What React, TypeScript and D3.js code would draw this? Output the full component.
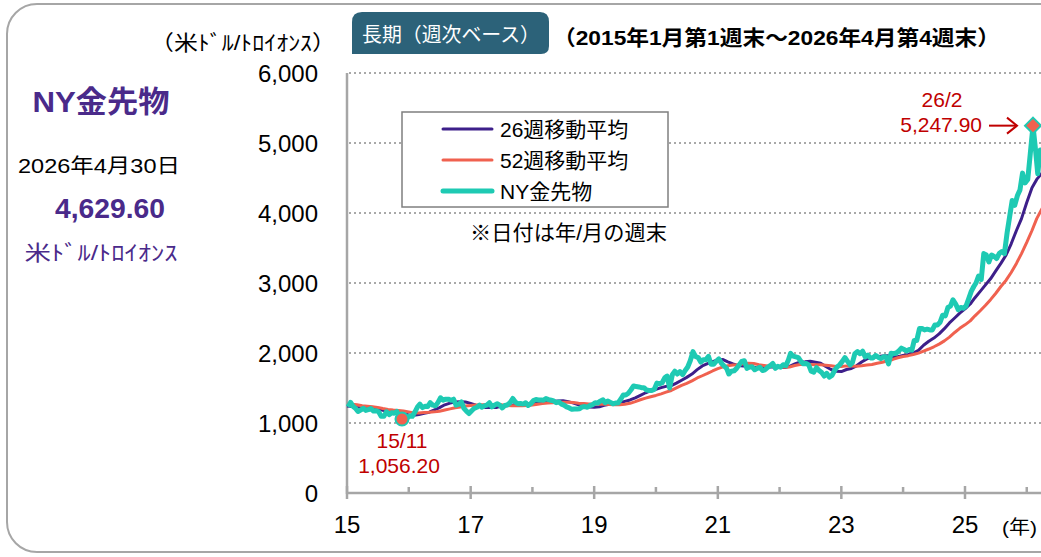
import React from 'react';
import * as d3 from 'd3';

const W = 1041;
const H = 557;
const FONT = "'Liberation Sans', Arial, 'Noto Sans CJK JP', sans-serif";

// ---- data (semi-monthly: ~7th and ~22nd of each month) ----
const gold2015 = [1230, 1295, 1235, 1205, 1165, 1185, 1210, 1180, 1190, 1205, 1170, 1175, 1160, 1095, 1095, 1160, 1120, 1145, 1140, 1165, 1090, 1056.2, 1075, 1070];
const gold2016 = [1100, 1095, 1160, 1230, 1270, 1220, 1240, 1235, 1290, 1255, 1245, 1295, 1360, 1325, 1340, 1340, 1325, 1340, 1255, 1265, 1300, 1210, 1170, 1135];
const gold2017 = [1175, 1210, 1225, 1255, 1225, 1245, 1255, 1290, 1230, 1255, 1275, 1255, 1215, 1250, 1260, 1290, 1350, 1300, 1275, 1280, 1270, 1290, 1250, 1275];
const gold2018 = [1320, 1335, 1330, 1330, 1325, 1350, 1335, 1325, 1315, 1290, 1300, 1270, 1255, 1230, 1215, 1195, 1200, 1200, 1205, 1230, 1235, 1225, 1250, 1260];
const gold2019 = [1290, 1285, 1315, 1330, 1290, 1315, 1295, 1275, 1285, 1285, 1340, 1400, 1400, 1425, 1475, 1530, 1520, 1515, 1505, 1505, 1470, 1465, 1465, 1480];
const gold2020 = [1570, 1560, 1575, 1645, 1670, 1500, 1690, 1740, 1700, 1735, 1690, 1750, 1800, 1890, 2020, 1950, 1935, 1870, 1905, 1905, 1950, 1840, 1840, 1880];
const gold2021 = [1915, 1855, 1815, 1780, 1700, 1740, 1745, 1780, 1830, 1880, 1890, 1780, 1800, 1805, 1760, 1780, 1795, 1750, 1760, 1795, 1820, 1850, 1780, 1810];
const gold2022 = [1797, 1832, 1820, 1900, 1995, 1955, 1945, 1935, 1880, 1845, 1850, 1830, 1740, 1725, 1790, 1750, 1720, 1670, 1710, 1655, 1680, 1750, 1800, 1830];
const gold2023 = [1880, 1935, 1880, 1830, 1860, 1990, 2020, 1990, 2025, 1945, 1970, 1930, 1930, 1965, 1940, 1920, 1945, 1945, 1845, 1995, 1990, 2000, 2030, 2070];
const gold2024 = [2050, 2030, 2050, 2040, 2180, 2180, 2350, 2350, 2330, 2340, 2330, 2330, 2400, 2400, 2440, 2540, 2530, 2650, 2670, 2760, 2700, 2620, 2650, 2640];
const gold2025 = [2670, 2770, 2880, 2950, 3000, 3100, 3050, 3420, 3400, 3300, 3400, 3380, 3350, 3420, 3450, 3420, 3720, 3950, 4180, 4110, 4250, 4330, 4570, 4430];
const gold2026 = [4480, 4850, 5247.9, 4900, 4560, 4900, 4750, 4629.6];
const goldYears = [gold2015, gold2016, gold2017, gold2018, gold2019, gold2020, gold2021, gold2022, gold2023, gold2024, gold2025, gold2026];

// monthly moving averages (first value = start of Jan 2015, then each month end)
const ma26 = [1242,
  1234, 1221, 1210, 1205, 1208, 1204, 1181, 1166, 1159, 1152, 1131, 1114,
  1109, 1120, 1139, 1154, 1187, 1220, 1260, 1285, 1299, 1303, 1300, 1280,
  1255, 1239, 1222, 1224, 1222, 1241, 1248, 1254, 1269, 1270, 1276, 1275,
  1291, 1301, 1303, 1311, 1315, 1319, 1305, 1284, 1261, 1242, 1230, 1225,
  1233, 1252, 1269, 1280, 1290, 1309, 1329, 1359, 1395, 1432, 1463, 1480,
  1505, 1523, 1534, 1569, 1611, 1652, 1699, 1762, 1815, 1847, 1876, 1900,
  1906, 1874, 1844, 1820, 1813, 1809, 1795, 1791, 1799, 1802, 1799, 1792,
  1794, 1809, 1843, 1870, 1875, 1882, 1868, 1853, 1807, 1764, 1739, 1735,
  1764, 1778, 1817, 1871, 1916, 1938, 1945, 1957, 1961, 1946, 1948, 1965,
  1980, 1999, 2038, 2110, 2167, 2213, 2273, 2348, 2430, 2500, 2570, 2630,
  2700, 2790, 2880, 2970, 3060, 3170, 3280, 3400, 3560, 3750, 3920, 4150,
  4360, 4480, 4570, 4640];
const ma52 = [1267,
  1268, 1262, 1248, 1240, 1232, 1223, 1207, 1194, 1185, 1179, 1170, 1159,
  1145, 1143, 1149, 1153, 1159, 1167, 1185, 1202, 1219, 1228, 1243, 1250,
  1258, 1261, 1261, 1263, 1261, 1261, 1251, 1246, 1245, 1247, 1249, 1258,
  1269, 1277, 1286, 1290, 1295, 1297, 1298, 1292, 1282, 1277, 1272, 1272,
  1269, 1268, 1265, 1261, 1260, 1267, 1281, 1306, 1332, 1356, 1376, 1394,
  1417, 1441, 1465, 1501, 1537, 1566, 1602, 1643, 1675, 1708, 1743, 1776,
  1802, 1818, 1829, 1833, 1845, 1854, 1851, 1832, 1822, 1811, 1806, 1801,
  1795, 1800, 1821, 1836, 1837, 1837, 1831, 1831, 1825, 1817, 1807, 1808,
  1816, 1816, 1812, 1817, 1827, 1836, 1854, 1868, 1889, 1908, 1932, 1951,
  1962, 1978, 1999, 2028, 2057, 2089, 2127, 2173, 2227, 2293, 2352, 2402,
  2459, 2531, 2604, 2678, 2762, 2850, 2950, 3040, 3150, 3280, 3420, 3580,
  3750, 3920, 4060, 4170];

const yTicks = [0, 1000, 2000, 3000, 4000, 5000, 6000];
const xYears = [2015, 2016, 2017, 2018, 2019, 2020, 2021, 2022, 2023, 2024, 2025, 2026];
const legendItems = ['26週移動平均', '52週移動平均', 'NY金先物'];

const C_TEAL = '#1ecab3';
const C_PURPLE = '#3d1f8a';
const C_CORAL = '#f0614f';
const C_RED = '#c00000';
const C_GRID = '#a9a9a9';
const C_AXIS = '#a6a6a6';
const C_TITLE = '#4a2a8a';

type Pt = { d: Date; v: number };

export default function App() {
  const x = d3.scaleTime().domain([new Date(2015, 0, 1), new Date(2025, 0, 1)]).range([347, 965]);
  const y = d3.scaleLinear().domain([0, 6000]).range([493, 73]);

  const goldPts: Pt[] = goldYears.flatMap((arr, yi) =>
    arr.map((v, k) => ({ d: new Date(2015 + yi, Math.floor(k / 2), k % 2 === 0 ? 7 : 22), v }))
  );
  const ma26Pts: Pt[] = ma26.map((v, i) => ({ d: new Date(2015, i, 1), v }));
  const ma52Pts: Pt[] = ma52.map((v, i) => ({ d: new Date(2015, i, 1), v }));

  const line = d3.line<Pt>().x(p => x(p.d)).y(p => y(p.v));

  const low = goldPts.reduce((a, b) => (b.v < a.v ? b : a));
  const high = goldPts.reduce((a, b) => (b.v > a.v ? b : a));
  const lowX = x(low.d), lowY = y(low.v);
  const hiX = x(high.d), hiY = y(high.v);
  const fmt2 = d3.format(',.2f');

  const legendX = 402, legendY = 112;

  return (
    <svg width={W} height={H} style={{ position: 'absolute', left: 0, top: 0, background: '#fff' }} fontFamily={FONT}>
      <rect x={7} y={4} width={1200} height={548} rx={30} ry={30} fill="#fff" stroke="#a6a6a6" strokeWidth={2} />

      {/* title badge */}
      <path d="M352,54 L352,22 Q352,12 362,12 L540,12 Q549,12 549,22 L549,46 Q549,54 541,54 Z" fill="#2c6279" />
      <text x={362} y={42} fontSize={20} fill="#fff" textLength={178} lengthAdjust="spacingAndGlyphs">長期（週次ベース）</text>
      <text x={553} y={45} fontSize={21} fontWeight="bold" fill="#000" textLength={447} lengthAdjust="spacingAndGlyphs">（2015年1月第1週末～2026年4月第4週末）</text>

      {/* left panel */}
      <text x={101} y={112} fontSize={30} fontWeight="bold" fill={C_TITLE} textAnchor="middle" textLength={137} lengthAdjust="spacingAndGlyphs">NY金先物</text>
      <text x={99} y={173} fontSize={20} fill="#000" textAnchor="middle" textLength={162} lengthAdjust="spacingAndGlyphs">2026年4月30日</text>
      <text x={110} y={218} fontSize={27} fontWeight="bold" fill={C_TITLE} textAnchor="middle" textLength={110} lengthAdjust="spacingAndGlyphs">4,629.60</text>
      <text x={101} y={260} fontSize={21} fill={C_TITLE} textAnchor="middle" textLength={153} lengthAdjust="spacingAndGlyphs">米ﾄﾞﾙ/ﾄﾛｲｵﾝｽ</text>

      {/* y axis unit */}
      <text x={150} y={50} fontSize={21} fill="#000" textLength={186} lengthAdjust="spacingAndGlyphs">（米ﾄﾞﾙ/ﾄﾛｲｵﾝｽ）</text>

      {/* gridlines */}
      {yTicks.filter(t => t > 0).map(t => (
        <line key={t} x1={349} x2={1100} y1={y(t)} y2={y(t)} stroke={C_GRID} strokeWidth={2} strokeDasharray="2,3" />
      ))}
      {/* y labels */}
      {yTicks.map(t => (
        <text key={t} x={318} y={y(t) + 8.5} fontSize={24} textAnchor="end" fill="#000">{d3.format(',')(t)}</text>
      ))}

      {/* axes */}
      <line x1={347} x2={347} y1={73} y2={494} stroke={C_AXIS} strokeWidth={2.5} />
      <line x1={346} x2={1100} y1={y(0)} y2={y(0)} stroke={C_AXIS} strokeWidth={2.5} />
      {xYears.map(yr => {
        const xx = x(new Date(yr, 0, 1));
        const major = yr % 2 === 1;
        return (
          <g key={yr}>
            <line x1={xx} x2={xx} y1={major ? 486 : 487} y2={major ? 499 : 493} stroke={C_AXIS} strokeWidth={2.5} />
            {major && (
              <text x={xx} y={533} fontSize={24} textAnchor="middle" fill="#000">{String(yr).slice(2)}</text>
            )}
          </g>
        );
      })}
      <text x={1002} y={534} fontSize={19} fill="#000" textLength={35} lengthAdjust="spacingAndGlyphs">(年)</text>

      {/* series */}
      <path d={line(ma26Pts) || ''} fill="none" stroke={C_PURPLE} strokeWidth={3} strokeLinejoin="round" />
      <path d={line(ma52Pts) || ''} fill="none" stroke={C_CORAL} strokeWidth={3} strokeLinejoin="round" />
      <path d={line(goldPts) || ''} fill="none" stroke={C_TEAL} strokeWidth={5} strokeLinejoin="round" />

      {/* low marker */}
      <circle cx={lowX} cy={lowY} r={6.5} fill={C_CORAL} stroke={C_TEAL} strokeWidth={2} />
      <text x={402} y={448} fontSize={21} fill={C_RED} textAnchor="middle">15/11</text>
      <text x={399} y={473} fontSize={21} fill={C_RED} textAnchor="middle">{fmt2(low.v)}</text>

      {/* high marker */}
      <path d={`M${hiX},${hiY - 8} L${hiX + 8},${hiY} L${hiX},${hiY + 8} L${hiX - 8},${hiY} Z`} fill={C_CORAL} stroke={C_TEAL} strokeWidth={2} />
      <text x={942} y={107} fontSize={21} fill={C_RED} textAnchor="middle">26/2</text>
      <text x={982} y={132} fontSize={21} fill={C_RED} textAnchor="end">{fmt2(high.v)}</text>
      <line x1={989} x2={1017} y1={hiY} y2={hiY} stroke={C_RED} strokeWidth={2} />
      <path d={`M1007,${hiY - 8} L1017,${hiY} L1007,${hiY + 8}`} fill="none" stroke={C_RED} strokeWidth={2} />

      {/* legend */}
      <rect x={legendX} y={legendY} width={266} height={95} fill="#fff" stroke="#7f7f7f" strokeWidth={1.5} />
      {legendItems.map((name, i) => {
        const ly = 129 + i * 31;
        const col = [C_PURPLE, C_CORAL, C_TEAL][i];
        const sw = [3, 3, 5][i];
        return (
          <g key={name}>
            <line x1={443} x2={492} y1={ly} y2={ly} stroke={col} strokeWidth={sw} strokeLinecap="round" />
            <text x={500} y={ly + 7.5} fontSize={21} fill="#000">{name}</text>
          </g>
        );
      })}
      <text x={470} y={240} fontSize={21} fill="#000" textLength={197} lengthAdjust="spacingAndGlyphs">※日付は年/月の週末</text>
    </svg>
  );
}
